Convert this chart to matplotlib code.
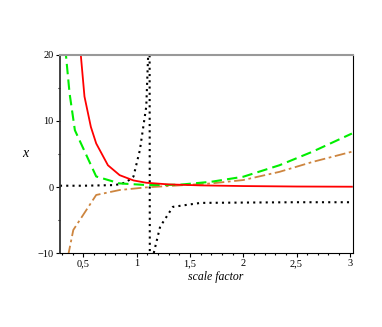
import matplotlib
matplotlib.use('Agg')
import matplotlib.pyplot as plt
from matplotlib.ticker import MultipleLocator, FuncFormatter

# curve samples
red_x = [0.47, 0.51, 0.57, 0.62, 0.73, 0.84, 0.97, 1.09, 1.3, 1.6, 2.0, 2.5, 3.02]
red_y = [21, 13.7, 9.1, 6.6, 3.3, 1.8, 1.0, 0.65, 0.4, 0.25, 0.15, 0.08, 0.05]

green_x = [0.33, 0.37, 0.42, 0.62, 0.84, 1.1, 1.4, 1.7, 2.0, 2.34, 2.65, 3.02]
green_y = [21, 14.2, 8.6, 1.6, 0.55, 0.3, 0.35, 0.8, 1.56, 3.3, 5.35, 8.1]

orange_x = [0.355, 0.405, 0.62, 0.84, 1.09, 1.4, 1.7, 2.0, 2.34, 2.65, 3.02]
orange_y = [-10.5, -6.5, -1.2, -0.45, -0.05, 0.25, 0.55, 1.06, 2.3, 3.8, 5.35]

black_x = [0.28, 0.5, 0.8, 0.9, 0.97, 1.03, 1.09, 1.107, 1.12, 1.125, 1.16, 1.22, 1.34, 1.6, 2.0, 2.5, 3.0]
black_y = [0.2, 0.2, 0.3, 0.7, 1.6, 5.6, 12.2, 19.7, 40, -40, -10, -6, -3, -2.4, -2.35, -2.3, -2.3]

xticks = [0.5, 1, 1.5, 2, 2.5, 3]
yticks = [-10, 0, 10, 20]

fig = plt.figure(figsize=(3.82, 3.27), dpi=100)
ax = fig.add_axes([0.157, 0.226, 0.767, 0.606])

ax.plot(black_x, black_y, color='black', lw=1.5, linestyle=(0, (1, 2)))
ax.plot(orange_x, orange_y, color='#cd853f', lw=1.3, linestyle=(0, (6, 2, 1.5, 2)))
ax.plot(green_x, green_y, color='#00ee00', lw=1.5, linestyle=(0, (5, 2.5)))
ax.plot(red_x, red_y, color='#ff0000', lw=1.3)

ax.set_xlim(0.28, 3.03)
ax.set_ylim(-10, 20)

ax.set_xticks(xticks)
ax.set_yticks(yticks)
ax.xaxis.set_minor_locator(MultipleLocator(0.1))
ax.yaxis.set_minor_locator(MultipleLocator(5))
fmt = FuncFormatter(lambda v, p: ('%g' % v).replace('.', ',').replace('-', '\u2212'))
ax.xaxis.set_major_formatter(fmt)
ax.yaxis.set_major_formatter(fmt)
ax.tick_params(which='both', direction='out', labelsize=7.5, width=0.8, pad=1.5)
ax.tick_params(which='major', length=3)
ax.tick_params(which='minor', length=1.5)
for lab in ax.get_xticklabels() + ax.get_yticklabels():
    lab.set_family('Liberation Serif')

ax.spines['top'].set_color('#999999')
ax.spines['top'].set_linewidth(1.5)
ax.spines['left'].set_color('#333333')
ax.spines['left'].set_linewidth(1.3)
ax.spines['right'].set_linewidth(0.8)
ax.spines['bottom'].set_linewidth(0.8)

ax.set_xlabel('scale factor', family='Liberation Serif', style='italic', fontsize=8.5)
ax.xaxis.set_label_coords(0.53, -0.09)
ax.set_ylabel('x', family='Liberation Serif', style='italic', fontsize=10, rotation=0)
ax.yaxis.set_label_coords(-0.12, 0.47)

fig.savefig('out.png', dpi=100)
